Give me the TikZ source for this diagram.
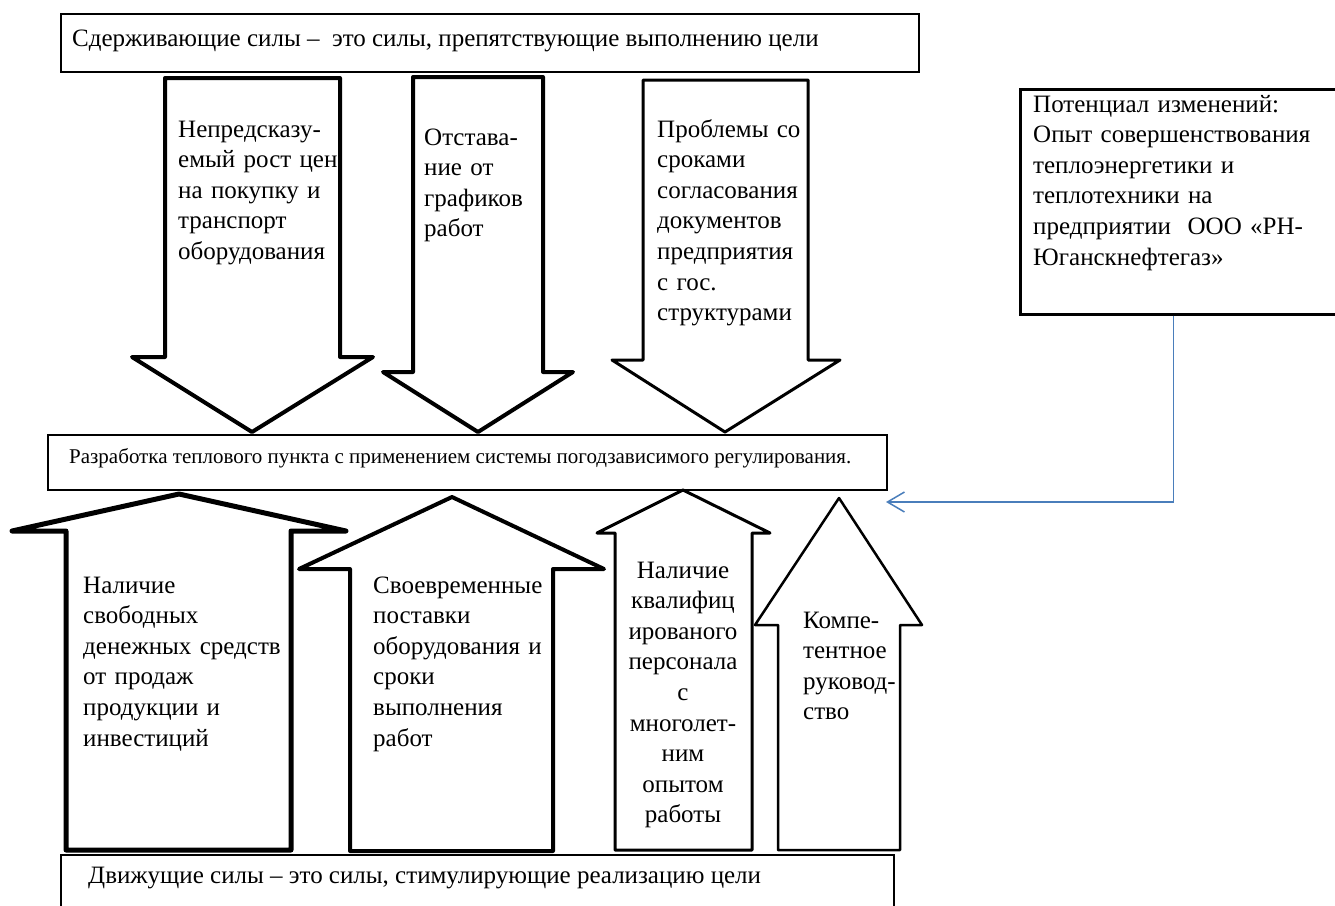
\documentclass[tikz,border=0pt]{standalone}
\usepackage{fontspec}
\setmainfont{Liberation Serif}
\usetikzlibrary{arrows.meta}
\definecolor{connblue}{RGB}{74,126,187}
\begin{document}
\begin{tikzpicture}[x=1pt,y=-1pt,
  box/.style={draw, line width=2, inner sep=0, anchor=north west},
  big/.style={font=\fontsize{25}{30.6}\selectfont, inner sep=0, anchor=base west, align=left, text width=300pt},
  line1/.style={font=\fontsize{25}{30.6}\selectfont, inner sep=0, anchor=base west},
  small/.style={font=\fontsize{21}{25}\selectfont, inner sep=0, anchor=base west},
  arr/.style={draw, line join=round},
  conn/.style={draw=connblue, line width=1.5, -{Straight Barb[length=17pt,width=20pt,line width=1.5pt]}}
]
\useasboundingbox (0,0) rectangle (1335,905);

% boxes
\node[box, minimum width=858, minimum height=58] (top) at (60,13) {};
\node[box, minimum width=839, minimum height=55] (mid) at (47,434) {};
\node[box, minimum width=833, minimum height=53] (bot) at (60,854) {};
\node[box, line width=2.5, minimum width=318, minimum height=225] (pot) at (1019,88) {};

% box texts
\node[line1] (toptxt) at (72,46) {Сдерживающие силы –\ \ это силы, препятствующие выполнению цели};
\node[small] (midtxt) at (69,463) {Разработка теплового пункта с применением системы погодзависимого регулирования.};
\node[line1] (bottxt) at (88,883) {Движущие силы – это силы, стимулирующие реализацию цели};
\node[big] (pottxt) at (1033,112) {Потенциал изменений:\\Опыт совершенствования\\теплоэнергетики и\\теплотехники на\\предприятии\ \ ООО «РН-\\Юганскнефтегаз»};

% restraining (down) arrows
\draw[arr, line width=4] (165,78) -- (340,78) -- (340,357) -- (373,357) -- (252,432) -- (132,357) -- (165,357) -- cycle;
\draw[arr, line width=4] (413,77) -- (543,77) -- (543,372) -- (573,372) -- (478,432) -- (383,372) -- (413,372) -- cycle;
\draw[arr, line width=3] (643,80) -- (808,80) -- (808,360) -- (840,360) -- (725,432) -- (612,360) -- (643,360) -- cycle;

\node[big] (ta) at (178,137) {Непредсказу-\\емый рост цен\\на покупку и\\транспорт\\оборудования};
\node[big] (tb) at (424,145) {Отстава-\\ние от\\графиков\\работ};
\node[big] (tc) at (657,137) {Проблемы со\\сроками\\согласования\\документов\\предприятия\\с гос.\\структурами};

% driving (up) arrows
\draw[arr, line width=5] (66,850) -- (66,531) -- (12,531) -- (179,494) -- (346,531) -- (291,531) -- (291,850) -- cycle;
\draw[arr, line width=4] (350,851) -- (350,569) -- (299,569) -- (452,497) -- (604,569) -- (553,569) -- (553,851) -- cycle;
\draw[arr, line width=3] (615,850) -- (615,533) -- (597,533) -- (683,490) -- (770,533) -- (752,533) -- (752,850) -- cycle;
\draw[arr, line width=2.5] (778,850) -- (778,625) -- (755,625) -- (839,498) -- (922,625) -- (900,625) -- (900,850) -- cycle;

\node[big] (t1) at (83,593) {Наличие\\свободных\\денежных средств\\от продаж\\продукции и\\инвестиций};
\node[big] (t2) at (373,593) {Своевременные\\поставки\\оборудования и\\сроки\\выполнения\\работ};
\node[big, anchor=base, align=center, text width=150pt] (t3) at (683,578) {Наличие\\квалифиц\\ированого\\персонала\\с\\многолет-\\ним\\опытом\\работы};
\node[big] (t4) at (803,628) {Компе-\\тентное\\руковод-\\ство};

% connector
\coordinate (tip) at (886,502);
\draw[conn] ([xshift=-6pt]pot.south) |- (tip);
\end{tikzpicture}
\end{document}
